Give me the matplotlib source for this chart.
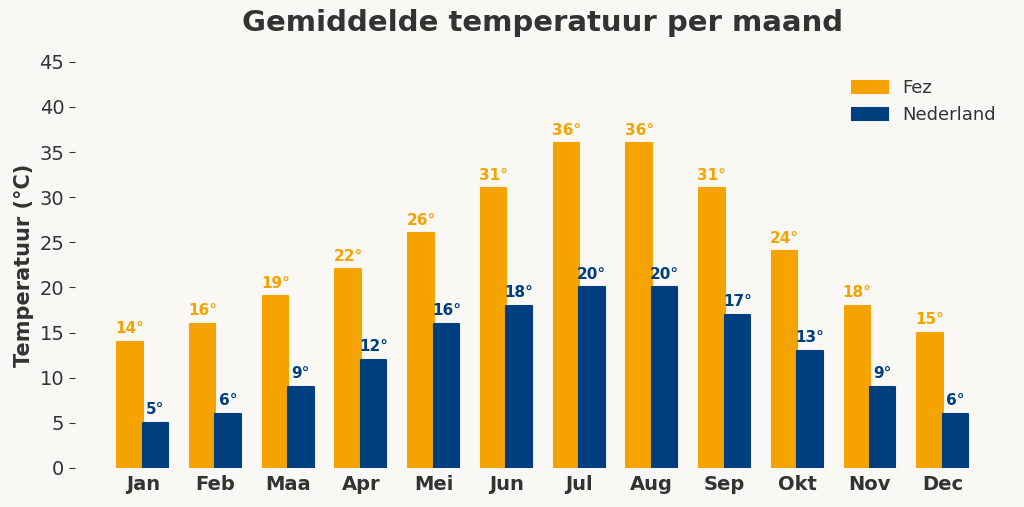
import numpy as np
import matplotlib
matplotlib.use('Agg')
import matplotlib.pyplot as plt

plt.rcParams['font.family'] = ['DejaVu Sans']

# --- Data
maanden   = ['Jan','Feb','Maa','Apr','Mei','Jun','Jul','Aug','Sep','Okt','Nov','Dec']
fez       = [14, 16, 19, 22, 26, 31, 36, 36, 31, 24, 18, 15]
nederland = [5, 6, 9, 12, 16, 18, 20, 20, 17, 13, 9, 6]

c_fez = '#F5A300'
c_nl  = '#003F7F'
bg    = '#F9F8F5'
txt   = '#333333'

x = np.arange(len(maanden))
w = 0.35

fig, ax = plt.subplots(figsize=(10.24, 5.07), dpi=100)
fig.patch.set_facecolor(bg)
ax.set_facecolor(bg)
fig.subplots_adjust(left=0.073, right=0.987, top=0.878, bottom=0.077)

b1 = ax.bar(x - w/2, fez, w, color=c_fez, edgecolor=c_fez, linewidth=1.5,
            capstyle='round', joinstyle='round', label='Fez')
b2 = ax.bar(x + w/2, nederland, w, color=c_nl, edgecolor=c_nl, linewidth=1.5,
            capstyle='round', joinstyle='round', label='Nederland')

for xi, v in zip(x, fez):
    ax.text(xi - w/2, v + 0.6, '{}°'.format(v), ha='center', va='bottom',
            color=c_fez, fontsize=11, fontweight='bold')
for xi, v in zip(x, nederland):
    ax.text(xi + w/2, v + 0.6, '{}°'.format(v), ha='center', va='bottom',
            color=c_nl, fontsize=11, fontweight='bold')

ax.set_ylim(0, 45)
ax.set_yticks(np.arange(0, 46, 5))
ax.set_xticks(x)
ax.set_xticklabels(maanden, fontsize=14, fontweight='bold', color=txt)
ax.tick_params(axis='y', labelsize=14, colors=txt, length=4)
ax.tick_params(axis='x', length=0, pad=5)
for s in ax.spines.values():
    s.set_visible(False)

ax.set_ylabel('Temperatuur (°C)', fontsize=15, fontweight='bold', color=txt)
ax.set_title('Gemiddelde temperatuur per maand', fontsize=21, fontweight='bold',
             color=txt, pad=22)
ax.legend(frameon=False, fontsize=13, labelcolor=txt, loc='upper right',
          bbox_to_anchor=(1.0, 0.9926), handlelength=2.0, borderaxespad=0.4)

fig.savefig('out.png', facecolor=bg)
